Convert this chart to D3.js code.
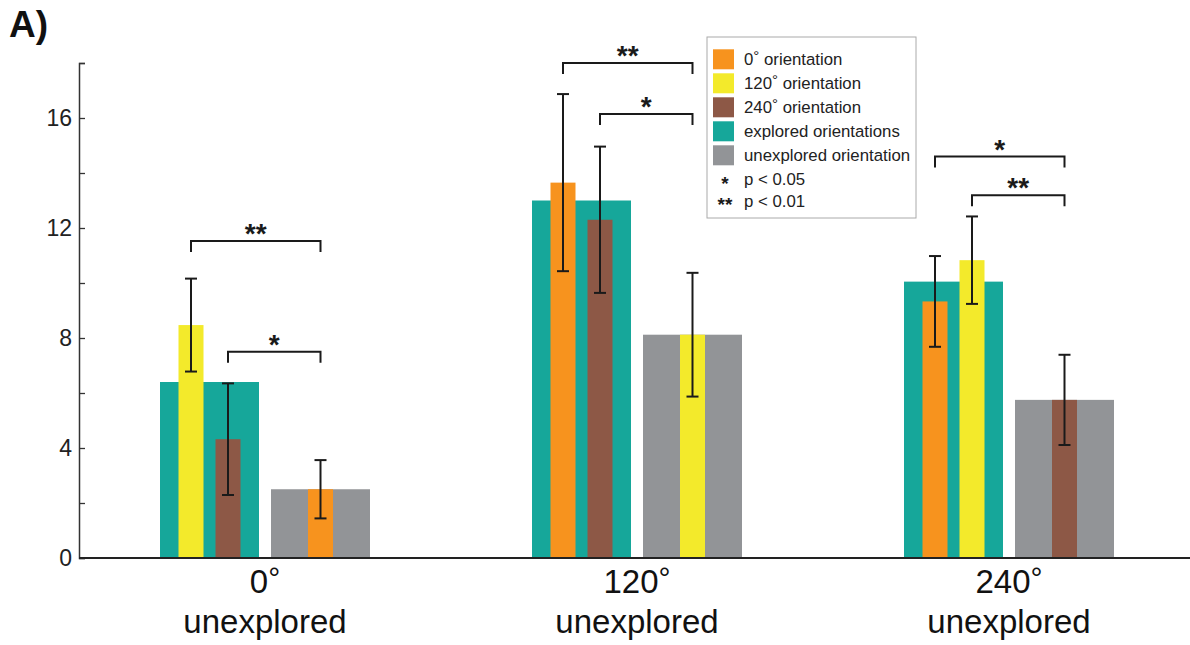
<!DOCTYPE html>
<html>
<head>
<meta charset="utf-8">
<script src="https://cdn.jsdelivr.net/npm/d3@7"></script>
<style>
  html, body { margin: 0; padding: 0; background: #fff; }
  svg { display: block; font-family: "Liberation Sans", Arial, Helvetica, sans-serif; }
</style>
</head>
<body>
<svg id="chart" width="1190" height="645"></svg>
<script>
// ---------- data ----------
const groups = ["0", "120", "240"];               // unexplored orientation of each group
const groupSubLabel = ["unexplored", "unexplored", "unexplored"];
const exploredMean = [6.4, 13.0, 10.05];           // teal bars
const unexploredMean = [2.5, 8.12, 5.75];          // gray bars
const exploredOrients = [["120", "240"], ["0", "240"], ["0", "120"]];

const orient0Mean = [2.5, 13.65, 9.33];
const orient0Err = [1.06, 3.22, 1.65];
const orient120Mean = [8.47, 8.12, 10.83];
const orient120Err = [1.69, 2.25, 1.59];
const orient240Mean = [4.32, 12.3, 5.75];
const orient240Err = [2.03, 2.66, 1.64];

const bracketGroup = [0, 0, 1, 1, 2, 2];
const bracketFrom = ["120", "240", "0", "240", "0", "120"];
const bracketLevel = [11.53, 7.5, 18.0, 16.15, 14.6, 13.19];
const bracketLabel = ["**", "*", "**", "*", "*", "**"];

const yTicks = [0, 2, 4, 6, 8, 10, 12, 14, 16, 18];
const yTickLabels = ["0", "", "4", "", "8", "", "12", "", "16", ""];

const legendKeys = ["0", "120", "240", "explored", "unexplored"];
const legendPre = ["0", "120", "240", "explored orientations", "unexplored orientation"];
const legendDeg = [true, true, true, false, false];
const legendPost = [" orientation", " orientation", " orientation", "", ""];
const legendStars = ["*", "**"];
const legendStarText = ["p < 0.05", "p < 0.01"];

// ---------- styles ----------
const colors = { "0": "#F7931E", "120": "#F3EA2B", "240": "#8D5846", explored: "#16A79A", unexplored: "#929497" };
const meanBy = { "0": orient0Mean, "120": orient120Mean, "240": orient240Mean };
const errBy = { "0": orient0Err, "120": orient120Err, "240": orient240Err };
const ink = "#1a1a1a";

const svg = d3.select("#chart");

// ---------- scales ----------
const y = d3.scaleLinear().domain([0, 18]).range([558, 63]);
const x = d3.scaleBand().domain(groups).range([79, 1195]);
const bw = x.bandwidth();
const sub = d3.scaleBand().domain(["explored", "unexplored"])
  .range([bw / 2 - 105, bw / 2 + 105]).paddingInner(12 / 111);
const slot = d3.scaleBand().domain([0, 1]).range([18.5, 80.5]).paddingInner(12 / 37);
const innerW = slot.bandwidth();

// position of an orientation bar inside group i
function oriX(i, ori) {
  const g = groups[i];
  const k = exploredOrients[i].indexOf(ori);
  if (k >= 0) return x(g) + sub("explored") + slot(k);
  return x(g) + sub("unexplored") + (sub.bandwidth() - innerW) / 2;
}

// ---------- big bars ----------
const G = svg.append("g");
groups.forEach((g, i) => {
  G.append("rect")
    .attr("x", x(g) + sub("explored")).attr("width", sub.bandwidth())
    .attr("y", y(exploredMean[i])).attr("height", y(0) - y(exploredMean[i]))
    .attr("fill", colors.explored);
  G.append("rect")
    .attr("x", x(g) + sub("unexplored")).attr("width", sub.bandwidth())
    .attr("y", y(unexploredMean[i])).attr("height", y(0) - y(unexploredMean[i]))
    .attr("fill", colors.unexplored);
});

// ---------- orientation bars + error bars ----------
groups.forEach((g, i) => {
  const oris = exploredOrients[i].concat([g]);
  oris.forEach(ori => {
    const m = meanBy[ori][i];
    const bx = oriX(i, ori);
    G.append("rect")
      .attr("x", bx).attr("width", innerW)
      .attr("y", y(m)).attr("height", y(0) - y(m))
      .attr("fill", colors[ori]);
  });
  oris.forEach(ori => {
    const m = meanBy[ori][i], e = errBy[ori][i];
    const cx = oriX(i, ori) + innerW / 2;
    const eb = G.append("g").attr("stroke", ink).attr("stroke-width", 2).attr("fill", "none");
    eb.append("line").attr("x1", cx).attr("x2", cx).attr("y1", y(m + e)).attr("y2", y(m - e));
    eb.append("line").attr("x1", cx - 6).attr("x2", cx + 6).attr("y1", y(m + e)).attr("y2", y(m + e));
    eb.append("line").attr("x1", cx - 6).attr("x2", cx + 6).attr("y1", y(m - e)).attr("y2", y(m - e));
  });
});

// ---------- significance brackets ----------
bracketGroup.forEach((gi, j) => {
  const g = groups[gi];
  const x1 = oriX(gi, bracketFrom[j]) + innerW / 2;
  const x2 = oriX(gi, g) + innerW / 2;
  const yl = y(bracketLevel[j]);
  G.append("path")
    .attr("d", `M${x1},${yl + 11}V${yl}H${x2}V${yl + 11}`)
    .attr("fill", "none").attr("stroke", ink).attr("stroke-width", 2);
  G.append("text")
    .attr("x", (x1 + x2) / 2).attr("y", yl + 2)
    .attr("text-anchor", "middle")
    .attr("font-size", 28).attr("font-weight", "bold").attr("fill", ink)
    .text(bracketLabel[j]);
});

// ---------- axes ----------
const yAxis = d3.axisLeft(y).tickValues(yTicks)
  .tickFormat((d, i) => yTickLabels[i])
  .tickSizeInner(-6).tickSizeOuter(-6).tickPadding(7);
const ya = svg.append("g").attr("transform", "translate(79,0)").call(yAxis);
ya.select(".domain").attr("stroke", "#333").attr("stroke-width", 1.5);
ya.selectAll(".tick line").attr("stroke", "#333").attr("stroke-width", 1.3);
ya.selectAll(".tick text").attr("font-size", 23).attr("fill", "#222")
  .attr("font-family", "'Liberation Sans', Arial, sans-serif");

svg.append("line").attr("x1", 79).attr("x2", 1190).attr("y1", y(0)).attr("y2", y(0))
  .attr("stroke", "#222").attr("stroke-width", 2);

// x labels
groups.forEach((g, i) => {
  const cx = x(g) + bw / 2;
  const t = svg.append("text").attr("x", cx).attr("y", 593)
    .attr("text-anchor", "middle").attr("font-size", 33).attr("fill", "#111");
  t.append("tspan").text(g);
  t.append("tspan").attr("font-size", 30).attr("dy", -5).text("°");
  svg.append("text").attr("x", cx).attr("y", 633)
    .attr("text-anchor", "middle").attr("font-size", 33).attr("fill", "#111")
    .text(groupSubLabel[i]);
});

// panel label
svg.append("text").attr("x", 9).attr("y", 37)
  .attr("font-size", 37).attr("font-weight", "bold").attr("fill", "#111").text("A)");

// ---------- legend ----------
const L = svg.append("g");
L.append("rect").attr("x", 707).attr("y", 37).attr("width", 209).attr("height", 181)
  .attr("fill", "#fff").attr("stroke", "#aaa").attr("stroke-width", 1);
legendKeys.forEach((k, i) => {
  const top = 49.3 + 24 * i;
  L.append("rect").attr("x", 713).attr("y", top).attr("width", 21).attr("height", 20)
    .attr("fill", colors[k]);
  const t = L.append("text").attr("x", 744).attr("y", top + 15.5)
    .attr("font-size", 16.8).attr("fill", "#222");
  t.append("tspan").text(legendPre[i]);
  if (legendDeg[i]) t.append("tspan").attr("font-size", 15).attr("dy", -4).text("°");
  if (legendPost[i]) t.append("tspan").attr("dy", legendDeg[i] ? 4 : 0).text(legendPost[i]);
});
// star symbols
const starBaselines = [189.5, 211.3];
legendStars.forEach((s, i) => {
  L.append("text").attr("x", 725).attr("y", starBaselines[i])
    .attr("text-anchor", "middle").attr("font-size", 19).attr("font-weight", "bold").attr("fill", ink)
    .text(s);
});
legendStarText.forEach((s, i) => {
  const top = 49.3 + 24 * (5 + i) - (i === 1 ? 1.5 : 0);
  L.append("text").attr("x", 744).attr("y", top + 15.5)
    .attr("font-size", 16.8).attr("fill", "#222").text(s);
});
</script>
</body>
</html>
